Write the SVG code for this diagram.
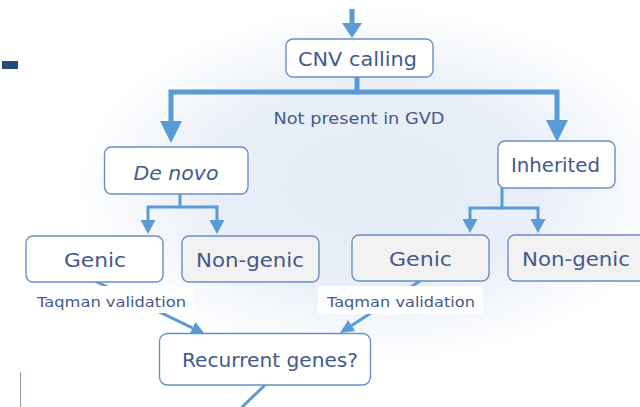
<svg xmlns="http://www.w3.org/2000/svg" width="640" height="407" viewBox="0 0 640 407">
<defs>
<radialGradient id="glow" cx="375" cy="185" r="300" gradientUnits="userSpaceOnUse" gradientTransform="translate(375 185) scale(1 0.6) translate(-375 -185)">
<stop offset="0" stop-color="#e5ecf6"/>
<stop offset="0.55" stop-color="#e9eff8"/>
<stop offset="1" stop-color="#ffffff"/>
</radialGradient>
<marker id="bigHead" markerUnits="userSpaceOnUse" markerWidth="22" markerHeight="22" refX="0" refY="11" orient="auto" viewBox="0 0 22 22">
<path d="M0,0 L22,11 L0,22 z" fill="#5b9bd5"/>
</marker>
<marker id="topHead" markerUnits="userSpaceOnUse" markerWidth="15" markerHeight="20" refX="0" refY="10" orient="auto" viewBox="0 0 15 20">
<path d="M0,0 L15,10 L0,20 z" fill="#5b9bd5"/>
</marker>
<marker id="smallHead" markerUnits="userSpaceOnUse" markerWidth="14" markerHeight="15" refX="0" refY="7.5" orient="auto" viewBox="0 0 14 15">
<path d="M0,0 L14,7.5 L0,15 z" fill="#5b9bd5"/>
</marker>
<marker id="diagHead" markerUnits="userSpaceOnUse" markerWidth="14" markerHeight="13" refX="0" refY="6.5" orient="auto" viewBox="0 0 14 13">
<path d="M0,0 L14,6.5 L0,13 z" fill="#5b9bd5"/>
</marker>
</defs>
<style>
.box{stroke:#6b8fc2;stroke-width:1.4;}
.white{fill:#ffffff;}
.grey{fill:#f2f2f2;}
.t{font-family:"DejaVu Sans","Liberation Sans",sans-serif;fill:#44598c;text-anchor:middle;}
.big{stroke:#5b9bd5;stroke-width:5;fill:none;stroke-linejoin:miter;}
.mid{stroke:#5b9bd5;stroke-width:3;fill:none;stroke-linejoin:miter;}
.lbl{fill:#ffffff;}
</style>
<rect x="0" y="0" width="640" height="407" fill="#ffffff"/>
<rect x="60" y="0" width="640" height="407" fill="url(#glow)"/>
<rect x="2" y="61" width="16" height="8" fill="#1f4e79"/>
<line x1="20.5" y1="372" x2="20.5" y2="407" stroke="#8a9ab0" stroke-width="1"/>

<g id="connectors">
<path class="big" d="M352,9 V23" marker-end="url(#topHead)"/>
<path class="big" d="M357,77 V92 H171 V121" marker-end="url(#bigHead)"/>
<path class="big" d="M357,92 H557 V120" marker-end="url(#bigHead)"/>
<path class="mid" d="M180,194 V207 H148 V220" marker-end="url(#smallHead)"/>
<path class="mid" d="M180,207 H217 V220" marker-end="url(#smallHead)"/>
<path class="mid" d="M502,188 V208 H470 V219" marker-end="url(#smallHead)"/>
<path class="mid" d="M502,208 H538 V219" marker-end="url(#smallHead)"/>
<path class="mid" d="M95,281 L192.4,327.9" marker-end="url(#diagHead)"/>
<path class="mid" d="M420,281 L351.7,325.4" marker-end="url(#diagHead)"/>
<path class="mid" d="M265,385 L237,412"/>
</g>

<g id="label-left">
<rect class="lbl" x="28" y="286" width="166" height="27"/>
<text class="t" x="111.5" y="307" font-size="14" textLength="149" lengthAdjust="spacingAndGlyphs">Taqman validation</text>
</g>
<g id="label-right">
<rect class="lbl" x="318" y="286" width="165" height="28"/>
<text class="t" x="401" y="307" font-size="14" textLength="148" lengthAdjust="spacingAndGlyphs">Taqman validation</text>
</g>
<g id="label-gvd">
<text class="t" x="359" y="124" font-size="16" textLength="171" lengthAdjust="spacingAndGlyphs">Not present in GVD</text>
</g>

<g id="cnv-calling">
<rect class="box white" x="286" y="39" width="147" height="38" rx="7"/>
<text class="t" x="357.5" y="66" font-size="20" textLength="119" lengthAdjust="spacingAndGlyphs">CNV calling</text>
</g>
<g id="de-novo">
<rect class="box white" x="104.5" y="147" width="143.5" height="47" rx="7"/>
<text class="t" x="176" y="180" font-size="20" font-style="italic" textLength="85" lengthAdjust="spacingAndGlyphs">De novo</text>
</g>
<g id="inherited">
<rect class="box white" x="498" y="141" width="117" height="47" rx="7"/>
<text class="t" x="555.5" y="172" font-size="20" textLength="89" lengthAdjust="spacingAndGlyphs">Inherited</text>
</g>
<g id="genic-left">
<rect class="box white" x="26" y="236" width="137" height="46" rx="7"/>
<text class="t" x="95" y="267" font-size="20" textLength="62" lengthAdjust="spacingAndGlyphs">Genic</text>
</g>
<g id="nongenic-left">
<rect class="box grey" x="182" y="236" width="137" height="46" rx="7"/>
<text class="t" x="250" y="267" font-size="20" textLength="108" lengthAdjust="spacingAndGlyphs">Non-genic</text>
</g>
<g id="genic-right">
<rect class="box grey" x="352" y="235" width="137" height="46" rx="7"/>
<text class="t" x="420.5" y="266" font-size="20" textLength="63" lengthAdjust="spacingAndGlyphs">Genic</text>
</g>
<g id="nongenic-right">
<rect class="box grey" x="508" y="235" width="145" height="46" rx="7"/>
<text class="t" x="576" y="266" font-size="20" textLength="108" lengthAdjust="spacingAndGlyphs">Non-genic</text>
</g>
<g id="recurrent-genes">
<rect class="box white" x="159.5" y="333.5" width="211" height="51.5" rx="8"/>
<text class="t" x="270" y="367" font-size="20" textLength="176" lengthAdjust="spacingAndGlyphs">Recurrent genes?</text>
</g>
</svg>
